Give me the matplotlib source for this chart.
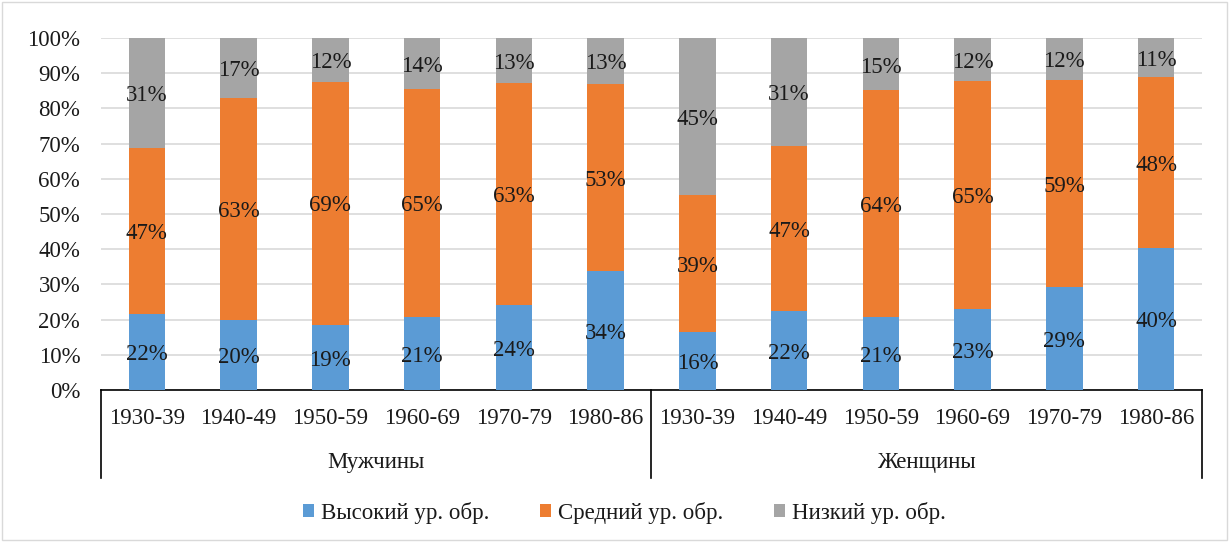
import numpy as np
import matplotlib
matplotlib.use("Agg")
import matplotlib.pyplot as plt
from matplotlib.patches import Patch

plt.rcParams['font.family'] = ['Liberation Serif', 'DejaVu Serif']

periods = ['1930-39', '1940-49', '1950-59', '1960-69', '1970-79', '1980-86']
groups = ['Мужчины', 'Женщины']
series_names = ['Высокий ур. обр.', 'Средний ур. обр.', 'Низкий ур. обр.']

# men then women, in percent
high = [21.6, 19.9, 18.6, 20.7, 24.1, 33.8,
        16.4, 22.4, 20.7, 23.0, 29.3, 40.4]
mid = [47.2, 63.1, 69.0, 64.9, 63.1, 53.1,
       39.0, 46.9, 64.4, 64.8, 58.8, 48.4]
low = [31.2, 17.0, 12.4, 14.4, 12.8, 13.1,
       44.6, 30.7, 14.9, 12.2, 11.9, 11.2]

colors = ['#5B9BD5', '#ED7D31', '#A5A5A5']
txt = '#1a1a1a'
fs = 16.5

fig = plt.figure(figsize=(12.29, 5.42), dpi=100)
fig.patches.append(plt.Rectangle((0.002, 0.004), 0.996, 0.992, transform=fig.transFigure,
                                 fill=False, edgecolor='#d9d9d9', linewidth=1))
ax = fig.add_axes([0.0822, 0.2804, 0.8958, 0.6495])

x = np.arange(len(high))
bottom = np.zeros(len(high))
for vals, c in zip([high, mid, low], colors):
    vals = np.array(vals)
    ax.bar(x, vals, 0.4, bottom=bottom, color=c, zorder=3)
    for xi, b, v in zip(x, bottom, vals):
        ax.text(xi, b + v / 2 - 0.8, f'{int(round(v))}%', ha='center', va='center',
                fontsize=fs, color=txt, zorder=4)
    bottom += vals

ax.set_xlim(-0.5, 11.5)
ax.set_ylim(0, 100)
ax.set_yticks(np.arange(0, 101, 10))
ax.set_yticklabels([f'{v}%' for v in range(0, 101, 10)])
ax.yaxis.grid(True, color='#d9d9d9', linewidth=1.2, zorder=0)
ax.set_xticks(x)
ax.set_xticklabels(periods * 2)
ax.tick_params(axis='both', length=0, labelsize=fs, colors=txt)
ax.tick_params(axis='y', pad=15)
ax.tick_params(axis='x', pad=13)
for s in ['top', 'right', 'left']:
    ax.spines[s].set_visible(False)
ax.spines['bottom'].set_color('#000000')
ax.spines['bottom'].set_linewidth(1.2)

tr = ax.get_xaxis_transform()
for xv in [-0.5, 5.5, 11.5]:
    ax.plot([xv, xv], [0, -0.25], transform=tr, color='#000000', lw=1.2, clip_on=False)
for i, g in enumerate(groups):
    ax.text(2.5 + 6 * i, -0.207, g, transform=tr, ha='center', va='center',
            fontsize=fs, color=txt)

handles = [Patch(facecolor=c, label=n) for c, n in zip(colors, series_names)]
fig.legend(handles=handles, loc='center', bbox_to_anchor=(0.508, 0.054), ncol=3,
           frameon=False, fontsize=fs, handlelength=0.5, handleheight=0.5,
           handletextpad=0.3, columnspacing=2.2, labelcolor=txt)

fig.savefig('out.png', dpi=100)
